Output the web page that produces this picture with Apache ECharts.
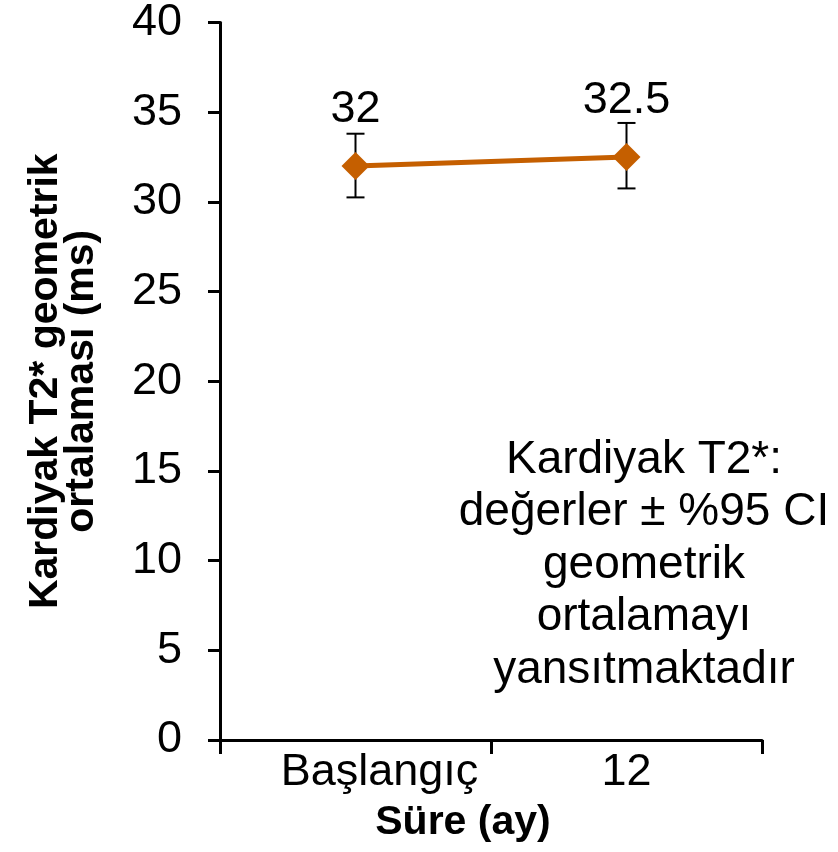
<!DOCTYPE html>
<html>
<head>
<meta charset="utf-8">
<script src="https://cdn.jsdelivr.net/npm/echarts@6/dist/echarts.min.js"></script>
<style>
html,body{margin:0;padding:0;background:#fff;}
#chart{width:838px;height:852px;}
</style>
</head>
<body>
<div id="chart"></div>
<script>
var categories = ['Başlangıç', '12'];
var meanValues = [32, 32.5];
var ciLower = [30.25, 30.75];
var ciUpper = [33.8, 34.4];
var yTicks = [0, 5, 10, 15, 20, 25, 30, 35, 40];
var xAxisTitle = 'Süre (ay)';
var yAxisTitle = 'Kardiyak T2* geometrik\nortalaması (ms)';
var noteLines = ['Kardiyak T2*:', 'değerler ± %95 CI', 'geometrik', 'ortalamayı', 'yansıtmaktadır'];

var FONT = 'Liberation Sans, Arial, sans-serif';
var chart = echarts.init(document.getElementById('chart'), null, {renderer: 'canvas'});

var errData = categories.map(function (c, i) { return [i, ciLower[i], ciUpper[i]]; });

var option = {
  backgroundColor: '#ffffff',
  animation: false,
  grid: {left: 220, right: 76, top: 20, bottom: 112, containLabel: false},
  xAxis: {
    type: 'category',
    data: categories.map(function (c, i) {
      return i === 0 ? {value: c, textStyle: {padding: [0, 0, 0, 48]}} : c;
    }),
    boundaryGap: true,
    axisLine: {show: true, lineStyle: {color: '#000', width: 3}},
    axisTick: {show: true, length: 14, lineStyle: {color: '#000', width: 3}},
    axisLabel: {color: '#000', fontSize: 45, fontFamily: FONT, margin: 10},
    name: xAxisTitle,
    nameLocation: 'middle',
    nameGap: 62,
    nameTextStyle: {color: '#000', fontSize: 41, fontWeight: 'bold', fontFamily: FONT, padding: [0, 56, 0, 0]},
    splitLine: {show: false}
  },
  yAxis: {
    type: 'value',
    min: yTicks[0],
    max: yTicks[yTicks.length - 1],
    interval: yTicks[1] - yTicks[0],
    axisLine: {show: true, lineStyle: {color: '#000', width: 3}},
    axisTick: {show: true, length: 12, lineStyle: {color: '#000', width: 3}},
    axisLabel: {color: '#000', fontSize: 45, fontFamily: FONT, margin: 38},
    splitLine: {show: false},
    name: yAxisTitle,
    nameLocation: 'middle',
    nameGap: 120,
    nameRotate: 90,
    nameTextStyle: {color: '#000', fontSize: 41, fontWeight: 'bold', fontFamily: FONT, lineHeight: 36, align: 'center'}
  },
  series: [
    {
      type: 'custom',
      z: 1,
      data: errData,
      renderItem: function (params, api) {
        var x = api.value(0);
        var lo = api.coord([x, api.value(1)]);
        var hi = api.coord([x, api.value(2)]);
        var cap = 9;
        var st = {stroke: '#000', lineWidth: 2};
        return {
          type: 'group',
          children: [
            {type: 'line', shape: {x1: lo[0], y1: lo[1], x2: hi[0], y2: hi[1]}, style: st},
            {type: 'line', shape: {x1: lo[0] - cap, y1: lo[1], x2: lo[0] + cap, y2: lo[1]}, style: st},
            {type: 'line', shape: {x1: hi[0] - cap, y1: hi[1], x2: hi[0] + cap, y2: hi[1]}, style: st}
          ]
        };
      }
    },
    {
      type: 'line',
      z: 3,
      data: meanValues,
      symbol: 'diamond',
      symbolSize: 28,
      lineStyle: {color: '#C55F00', width: 5},
      itemStyle: {color: '#C55F00'},
      label: {
        show: true, position: 'top', distance: 20,
        color: '#000', fontSize: 45, fontFamily: FONT
      }
    }
  ],
  graphic: [
    {
      type: 'text',
      x: 644, y: 565,
      style: {
        text: noteLines.join('\n'),
        fill: '#000',
        fontSize: 46,
        fontFamily: FONT,
        lineHeight: 52.5,
        align: 'center',
        verticalAlign: 'middle'
      }
    }
  ]
};
chart.setOption(option);
</script>
</body>
</html>
